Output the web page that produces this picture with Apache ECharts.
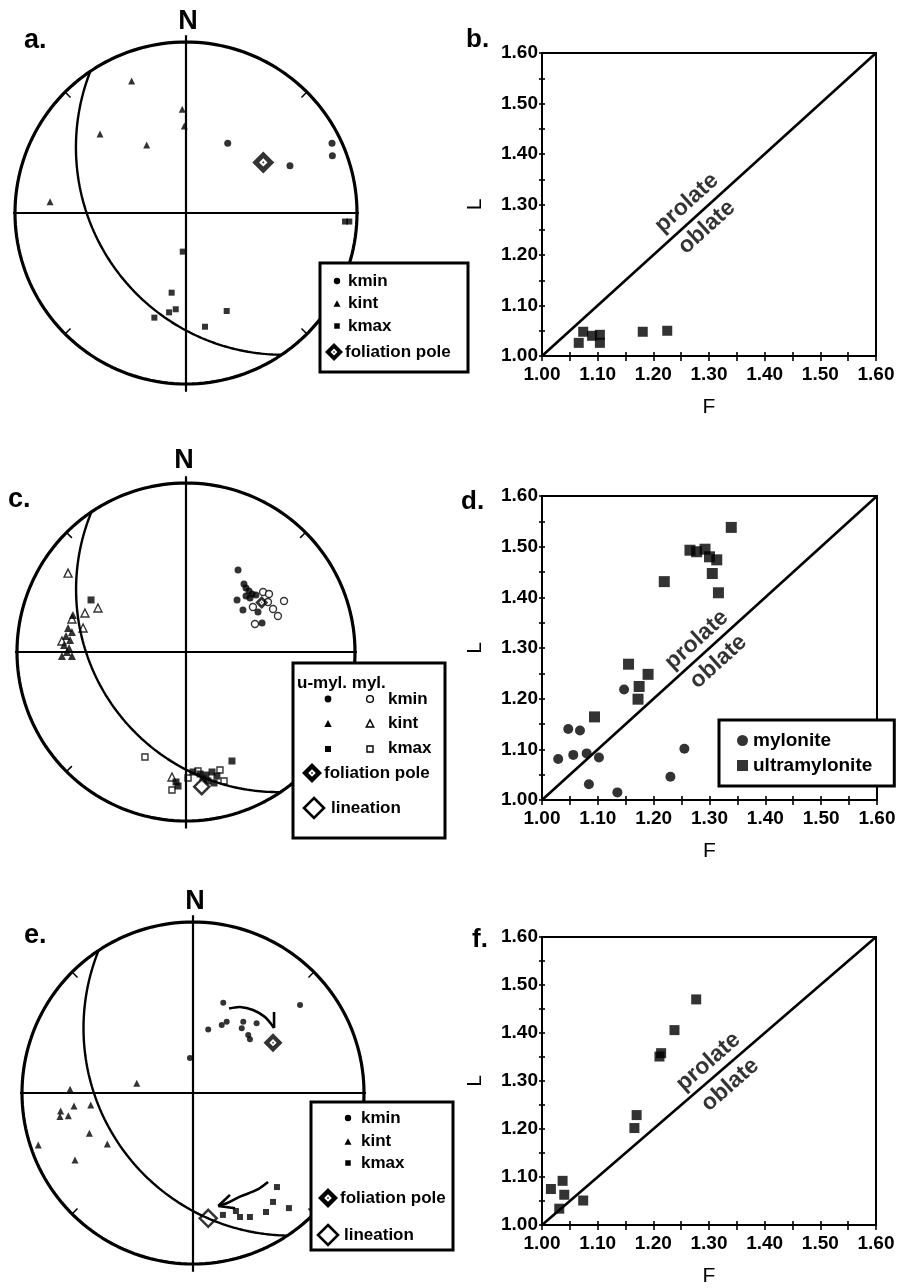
<!DOCTYPE html>
<html>
<head>
<meta charset="utf-8">
<script src="https://cdn.jsdelivr.net/npm/echarts/dist/echarts.min.js"></script>
<style>
  html, body { margin: 0; padding: 0; background: #fff; }
  #chart { width: 899px; height: 1288px; }
</style>
</head>
<body>
<div id="chart"></div>
<script>
const FONT = '"Liberation Sans", Arial, Helvetica, sans-serif';
const DEG = Math.PI / 180;

// ---------- Flinn diagrams: F (foliation) vs L (lineation) ----------
const flinnRange = [1.0, 1.6];

const bF = [1.066, 1.074, 1.090, 1.104, 1.104, 1.181, 1.225];
const bL = [1.026, 1.048, 1.040, 1.042, 1.026, 1.048, 1.050];

const dMyloniteF = [1.047, 1.068, 1.029, 1.056, 1.080, 1.102, 1.084, 1.135, 1.147, 1.230, 1.255];
const dMyloniteL = [1.140, 1.137, 1.081, 1.089, 1.092, 1.084, 1.031, 1.015, 1.218, 1.046, 1.101];
const dUltraF = [1.339, 1.265, 1.277, 1.292, 1.300, 1.313, 1.305, 1.316, 1.219, 1.155, 1.174, 1.172, 1.190, 1.094];
const dUltraL = [1.538, 1.493, 1.490, 1.495, 1.480, 1.474, 1.447, 1.409, 1.431, 1.268, 1.224, 1.199, 1.248, 1.164];

const fF = [1.016, 1.037, 1.040, 1.031, 1.074, 1.166, 1.170, 1.211, 1.214, 1.238, 1.277];
const fL = [1.075, 1.092, 1.063, 1.034, 1.051, 1.202, 1.229, 1.351, 1.358, 1.406, 1.470];

// ---------- Stereonets: lower hemisphere, [east, north] in primitive radii ----------
const aKmin = [[0.244, 0.408], [0.608, 0.277], [0.854, 0.408], [0.856, 0.335]];
const aKint = [[-0.318, 0.772], [-0.022, 0.606], [-0.010, 0.509], [-0.503, 0.462], [-0.230, 0.398], [-0.795, 0.066]];
const aKmax = [[0.930, -0.050], [0.955, -0.050], [-0.019, -0.226], [-0.084, -0.466], [-0.060, -0.563],
               [-0.099, -0.581], [-0.185, -0.612], [0.238, -0.573], [0.111, -0.665]];
const aPole = [[0.452, 0.296]];
const aFoliation = { dipDir: 236, dip: 34.5 };

const cKminUltra = [[0.308, 0.485], [0.343, 0.402], [0.355, 0.379], [0.373, 0.361], [0.391, 0.343], [0.355, 0.331],
                    [0.414, 0.337], [0.302, 0.308], [0.337, 0.249], [0.426, 0.237], [0.450, 0.172], [0.379, 0.320]];
const cKminMyl = [[0.456, 0.355], [0.491, 0.343], [0.580, 0.302], [0.396, 0.266], [0.515, 0.254], [0.544, 0.213],
                  [0.408, 0.166], [0.485, 0.296]];
const cKintUltra = [[-0.669, 0.219], [-0.698, 0.142], [-0.675, 0.118], [-0.710, 0.095], [-0.686, 0.071],
                    [-0.722, 0.041], [-0.692, 0.024], [-0.734, -0.024], [-0.675, -0.024], [-0.704, 0.000]];
const cKintMyl = [[-0.698, 0.467], [-0.521, 0.260], [-0.598, 0.231], [-0.675, 0.195], [-0.609, 0.142],
                  [-0.734, 0.065], [-0.083, -0.740]];
const cKmaxUltra = [[-0.562, 0.308], [0.041, -0.710], [0.083, -0.722], [0.118, -0.728], [0.154, -0.710],
                    [0.183, -0.734], [0.130, -0.763], [0.101, -0.751], [0.166, -0.775], [-0.059, -0.769],
                    [-0.047, -0.793], [0.272, -0.645]];
const cKmaxMyl = [[-0.243, -0.621], [-0.083, -0.817], [0.012, -0.746], [0.225, -0.763], [0.071, -0.704], [0.201, -0.698]];
const cPole = [[0.448, 0.293]];
const cLineation = [[0.093, -0.797]];
const cFoliation = { dipDir: 236, dip: 33.5 };

const eKmin = [[0.177, 0.528], [0.626, 0.515], [0.089, 0.372], [0.168, 0.398], [0.197, 0.417], [0.294, 0.417],
               [0.372, 0.408], [0.285, 0.378], [0.323, 0.339], [0.333, 0.314], [-0.018, 0.205]];
const eKint = [[-0.329, 0.057], [-0.719, 0.022], [-0.774, -0.105], [-0.778, -0.138], [-0.729, -0.133],
               [-0.696, -0.076], [-0.598, -0.070], [-0.606, -0.236], [-0.501, -0.298], [-0.690, -0.392], [-0.905, -0.304]];
const eKmax = [[0.491, -0.550], [0.468, -0.637], [0.561, -0.673], [0.427, -0.696], [0.333, -0.725],
               [0.275, -0.725], [0.175, -0.713], [0.251, -0.690]];
const ePole = [[0.468, 0.294]];
const eLineation = [[0.089, -0.733]];
const eFoliation = { dipDir: 236.5, dip: 34.5 };
// rotation arrows (shaft points, then barb ends drawn from the tip)
const eArrows = [
  { shaft: [[0.211, 0.494], [0.275, 0.503], [0.351, 0.485], [0.421, 0.444], [0.474, 0.380]], barbs: [[0.474, 0.474]] },
  { shaft: [[0.439, -0.520], [0.372, -0.567], [0.275, -0.606], [0.197, -0.645], [0.148, -0.661]],
    barbs: [[0.216, -0.596], [0.246, -0.674]] }
];

// ---------- projection helpers (Wulff net, lower hemisphere) ----------
function project(trend, plunge) {
  const r = Math.tan((90 - plunge) * DEG / 2);
  return [r * Math.sin(trend * DEG), r * Math.cos(trend * DEG)];
}
function greatCircle(plane) {
  const sd = (plane.dipDir - 90) * DEG, dd = plane.dipDir * DEG, dp = plane.dip * DEG;
  const s = [Math.sin(sd), Math.cos(sd), 0];
  const d = [Math.sin(dd) * Math.cos(dp), Math.cos(dd) * Math.cos(dp), Math.sin(dp)];
  const pts = [];
  for (let a = 0; a <= 180; a += 1) {
    const c = Math.cos(a * DEG), sn = Math.sin(a * DEG);
    const v = [c * s[0] + sn * d[0], c * s[1] + sn * d[1], c * s[2] + sn * d[2]];
    const pl = Math.asin(Math.max(-1, Math.min(1, v[2]))) / DEG;
    const tr = Math.atan2(v[0], v[1]) / DEG;
    pts.push(project(tr, pl));
  }
  return pts;
}
function primitive() {
  const pts = [];
  for (let t = 0; t <= 360; t += 2) pts.push([Math.sin(t * DEG), Math.cos(t * DEG)]);
  return pts;
}
const zip = (a, b) => a.map((v, i) => [v, b[i]]);

// black diamond with a small white window and a centre dot
const POLE_SYMBOL = 'path://M10,0L20,10L10,20L0,10Z M10,6.2L6.2,10L10,13.8L13.8,10Z M10,8.9L11.1,10L10,11.1L8.9,10Z';

const option = {
  animation: false,
  backgroundColor: '#fff',
  grid: [], xAxis: [], yAxis: [], series: [], graphic: [], legend: []
};

// ---------- stereonet ----------
function addNet(box, net) {
  const gi = option.grid.length;
  option.grid.push({ left: box.left, top: box.top, width: box.size, height: box.size });
  const xi = option.xAxis.length, yi = option.yAxis.length;
  option.xAxis.push({ gridIndex: gi, type: 'value', min: -1, max: 1, show: false });
  option.yAxis.push({ gridIndex: gi, type: 'value', min: -1, max: 1, show: false });
  const base = { xAxisIndex: xi, yAxisIndex: yi, clip: false, silent: true };
  const line = (data, width) => Object.assign({ type: 'line', data, symbol: 'none',
    lineStyle: { color: '#000', width } }, base);
  const dots = (data, symbol, size, filled) => Object.assign({ type: 'scatter', data, symbol, symbolSize: size,
    itemStyle: filled ? { color: '#000' } : { color: '#fff', borderColor: '#000', borderWidth: 1.4 } }, base);

  option.series.push(line(primitive(), 3.2));
  option.series.push(line([[-1.04, 0], [1.04, 0]], 2.2));
  option.series.push(line([[0, -1.045], [0, 1.04]], 2.2));
  [45, 135, 225, 315].forEach(t => {
    const s = Math.sin(t * DEG), c = Math.cos(t * DEG);
    option.series.push(line([[0.955 * s, 0.955 * c], [1.0 * s, 1.0 * c]], 1.5));
  });
  option.series.push(line(greatCircle(net.plane), 2.4));
  net.points.forEach(p => option.series.push(dots(p.data, p.symbol, p.size, p.filled)));
  if (net.lineation) {
    option.series.push(Object.assign({ type: 'scatter', data: net.lineation, symbol: 'diamond', symbolSize: net.linSize,
      itemStyle: { color: '#fff', borderColor: '#000', borderWidth: 2.5 } }, base));
  }
  option.series.push(Object.assign({ type: 'scatter', data: net.pole, symbol: POLE_SYMBOL,
    symbolSize: net.poleSize, itemStyle: { color: '#000' } }, base));
  if (net.arrows) {
    option.series.push(Object.assign({
      type: 'custom', coordinateSystem: 'cartesian2d',
      data: net.arrows.map(() => [0, 0]),
      renderItem: (params, api) => {
        const a = net.arrows[params.dataIndex];
        const pts = a.shaft.map(p => api.coord(p));
        const tip = pts[pts.length - 1];
        const children = [{ type: 'polyline', shape: { points: pts, smooth: 0.3 },
          style: { stroke: '#000', lineWidth: 2.6, fill: null } }];
        a.barbs.forEach(b => {
          const q = api.coord(b);
          children.push({ type: 'line', shape: { x1: tip[0], y1: tip[1], x2: q[0], y2: q[1] },
            style: { stroke: '#000', lineWidth: 2.6 } });
        });
        return { type: 'group', children };
      }
    }, base));
  }
}

// ---------- Flinn diagram ----------
function addFlinn(box, sets, labels) {
  const gi = option.grid.length;
  option.grid.push({ left: box.left, top: box.top, width: box.width, height: box.height,
    show: true, borderColor: '#000', borderWidth: 2 });
  const xi = option.xAxis.length, yi = option.yAxis.length;
  const fmt = v => v.toFixed(2);
  const lbl = { color: '#000', fontFamily: FONT, fontSize: 19, fontWeight: 'bold' };
  const common = { type: 'value', min: flinnRange[0], max: flinnRange[1], interval: 0.1,
    splitLine: { show: false }, minorSplitLine: { show: false } };
  option.xAxis.push(Object.assign({}, common, { gridIndex: gi, position: 'bottom',
    axisLine: { lineStyle: { color: '#000', width: 2 } },
    axisTick: { show: true, length: 5, lineStyle: { color: '#000', width: 1.6 } },
    minorTick: { show: true, splitNumber: 2, length: 5, lineStyle: { color: '#000', width: 1.6 } },
    axisLabel: Object.assign({ formatter: fmt, margin: 9 }, lbl),
    name: 'F', nameLocation: 'middle', nameGap: 41,
    nameTextStyle: { color: '#000', fontFamily: FONT, fontSize: 21 } }));
  option.xAxis.push(Object.assign({}, common, { gridIndex: gi, position: 'bottom',
    axisLine: { show: false }, axisLabel: { show: false },
    axisTick: { show: true, inside: true, length: 4, lineStyle: { color: '#000', width: 1.6 } },
    minorTick: { show: true, splitNumber: 2, length: 4, lineStyle: { color: '#000', width: 1.6 } } }));
  option.yAxis.push(Object.assign({}, common, { gridIndex: gi, position: 'left',
    axisLine: { lineStyle: { color: '#000', width: 2 } },
    axisTick: { show: true, length: 3, lineStyle: { color: '#000', width: 1.6 } },
    minorTick: { show: true, splitNumber: 2, length: 3, lineStyle: { color: '#000', width: 1.6 } },
    axisLabel: Object.assign({ formatter: fmt, margin: 4 }, lbl),
    name: 'L', nameLocation: 'middle', nameGap: 56, nameRotate: 90,
    nameTextStyle: { color: '#000', fontFamily: FONT, fontSize: 21 } }));
  option.yAxis.push(Object.assign({}, common, { gridIndex: gi, position: 'left',
    axisLine: { show: false }, axisLabel: { show: false },
    axisTick: { show: true, inside: true, length: 3, lineStyle: { color: '#000', width: 1.6 } },
    minorTick: { show: true, splitNumber: 2, length: 3, lineStyle: { color: '#000', width: 1.6 } } }));

  const base = { xAxisIndex: xi, yAxisIndex: yi };
  option.series.push(Object.assign({ type: 'line', silent: true, symbol: 'none',
    data: [[flinnRange[0], flinnRange[0]], [flinnRange[1], flinnRange[1]]],
    lineStyle: { color: '#000', width: 2.6 } }, base));
  sets.forEach(s => option.series.push(Object.assign({ type: 'scatter', name: s.name, data: s.data,
    symbol: s.symbol, symbolSize: s.size, itemStyle: { color: '#000' } }, base)));
  const rot = Math.atan2(box.height, box.width) / DEG;
  labels.forEach(t => option.series.push(Object.assign({ type: 'scatter', silent: true,
    data: [t.at], symbolSize: 0,
    label: { show: true, position: 'inside', formatter: t.text, rotate: rot, color: '#000',
      fontFamily: FONT, fontSize: 23, fontWeight: 'bold' } }, base)));
}

// ---------- panels ----------
addNet({ left: 15, top: 42, size: 342 }, {
  plane: aFoliation, pole: aPole, poleSize: 22,
  points: [
    { data: aKmin, symbol: 'circle', size: 7, filled: true },
    { data: aKint, symbol: 'triangle', size: 7, filled: true },
    { data: aKmax, symbol: 'rect', size: 6, filled: true }
  ]
});
addFlinn({ left: 542, top: 53, width: 334, height: 303 },
  [{ name: 'b-data', data: zip(bF, bL), symbol: 'rect', size: 10 }],
  [{ text: 'prolate', at: [1.260, 1.303] }, { text: 'oblate', at: [1.296, 1.255] }]);

addNet({ left: 17, top: 483, size: 338 }, {
  plane: cFoliation, pole: cPole, poleSize: 13, lineation: cLineation, linSize: 15,
  points: [
    { data: cKminMyl, symbol: 'circle', size: 7, filled: false },
    { data: cKintMyl, symbol: 'triangle', size: 8, filled: false },
    { data: cKmaxMyl, symbol: 'rect', size: 6, filled: false },
    { data: cKminUltra, symbol: 'circle', size: 7, filled: true },
    { data: cKintUltra, symbol: 'triangle', size: 8, filled: true },
    { data: cKmaxUltra, symbol: 'rect', size: 7, filled: true }
  ]
});
addFlinn({ left: 542, top: 496, width: 335, height: 304 },
  [{ name: 'mylonite', data: zip(dMyloniteF, dMyloniteL), symbol: 'circle', size: 10 },
   { name: 'ultramylonite', data: zip(dUltraF, dUltraL), symbol: 'rect', size: 11 }],
  [{ text: 'prolate', at: [1.277, 1.316] }, { text: 'oblate', at: [1.316, 1.273] }]);

addNet({ left: 22, top: 922, size: 342 }, {
  plane: eFoliation, pole: ePole, poleSize: 19, lineation: eLineation, linSize: 17, arrows: eArrows,
  points: [
    { data: eKmin, symbol: 'circle', size: 6, filled: true },
    { data: eKint, symbol: 'triangle', size: 7, filled: true },
    { data: eKmax, symbol: 'rect', size: 6, filled: true }
  ]
});
addFlinn({ left: 542, top: 937, width: 334, height: 292 },
  [{ name: 'f-data', data: zip(fF, fL), symbol: 'rect', size: 10 }],
  [{ text: 'prolate', at: [1.299, 1.340] }, { text: 'oblate', at: [1.338, 1.292] }]);

option.legend.push({
  data: ['mylonite', 'ultramylonite'], orient: 'vertical', left: 719, top: 720,
  padding: [11, 22, 11, 18], itemGap: 6, itemWidth: 11, itemHeight: 11,
  borderColor: '#000', borderWidth: 3, backgroundColor: '#fff', selectedMode: false,
  textStyle: { color: '#000', fontFamily: FONT, fontSize: 19, fontWeight: 'bold' }
});

// ---------- panel letters, north marks, stereonet keys ----------
const Z = 100;
function gText(x, y, text, size, weight, align) {
  return { type: 'text', x, y, z: Z + 1,
    style: { text, fill: '#000', font: (weight || 'bold') + ' ' + size + 'px ' + FONT,
      align: align || 'left', verticalAlign: 'middle' } };
}
function gBox(x, y, w, h) {
  return { type: 'rect', z: Z, shape: { x, y, width: w, height: h },
    style: { fill: '#fff', stroke: '#000', lineWidth: 3 } };
}
function gDot(cx, cy, r, filled) {
  return { type: 'circle', z: Z + 1, shape: { cx, cy, r },
    style: filled ? { fill: '#000' } : { fill: '#fff', stroke: '#000', lineWidth: 1.4 } };
}
function gTri(cx, cy, s, filled) {
  return { type: 'polygon', z: Z + 1,
    shape: { points: [[cx, cy - s * 0.55], [cx + s * 0.5, cy + s * 0.4], [cx - s * 0.5, cy + s * 0.4]] },
    style: filled ? { fill: '#000' } : { fill: '#fff', stroke: '#000', lineWidth: 1.4 } };
}
function gSq(cx, cy, s, filled) {
  return { type: 'rect', z: Z + 1, shape: { x: cx - s / 2, y: cy - s / 2, width: s, height: s },
    style: filled ? { fill: '#000' } : { fill: '#fff', stroke: '#000', lineWidth: 1.4 } };
}
function gDiamond(cx, cy, h, style) {
  return { type: 'polygon', z: Z + 1,
    shape: { points: [[cx, cy - h], [cx + h, cy], [cx, cy + h], [cx - h, cy]] }, style };
}
function gPole(cx, cy, h) {
  return [gDiamond(cx, cy, h, { fill: '#000' }),
          Object.assign(gDiamond(cx, cy, h * 0.38, { fill: '#fff' }), { z: Z + 2 }),
          Object.assign(gDiamond(cx, cy, h * 0.11, { fill: '#000' }), { z: Z + 3 })];
}
function gLin(cx, cy, h) {
  return gDiamond(cx, cy, h, { fill: '#fff', stroke: '#000', lineWidth: 2.6 });
}

option.graphic.push(
  gText(24, 41, 'a.', 27, 'bold'), gText(188, 22, 'N', 27, 'bold', 'center'),
  gText(466, 40, 'b.', 26, 'bold'),
  gText(8, 500, 'c.', 27, 'bold'), gText(184, 461, 'N', 27, 'bold', 'center'),
  gText(461, 502, 'd.', 26, 'bold'),
  gText(24, 936, 'e.', 27, 'bold'), gText(195, 902, 'N', 27, 'bold', 'center'),
  gText(472, 940, 'f.', 26, 'bold')
);

// key for net a
option.graphic.push(gBox(320, 263, 148, 109),
  gDot(337, 281, 3.2, true), gText(348, 281, 'kmin', 17),
  gTri(337, 304, 7, true), gText(348, 303, 'kint', 17),
  gSq(337, 326, 5.5, true), gText(348, 326, 'kmax', 17),
  ...gPole(334, 352, 9), gText(345, 352, 'foliation pole', 17));

// key for net c
option.graphic.push(gBox(293, 663, 152, 175),
  gText(297, 683, 'u-myl. myl.', 17),
  gDot(328, 699, 3.4, true), gDot(370, 699, 3.4, false), gText(388, 699, 'kmin', 17),
  gTri(328, 724, 7.5, true), gTri(370, 724, 7.5, false), gText(388, 723, 'kint', 17),
  gSq(328, 749, 6, true), gSq(370, 749, 6, false), gText(388, 748, 'kmax', 17),
  ...gPole(312, 773, 10), gText(324, 773, 'foliation pole', 17),
  gLin(314, 808, 10), gText(331, 808, 'lineation', 17));

// key for net e
option.graphic.push(gBox(311, 1102, 142, 148),
  gDot(348, 1118, 3.2, true), gText(361, 1118, 'kmin', 17),
  gTri(348, 1142, 7, true), gText(361, 1141, 'kint', 17),
  gSq(348, 1163, 5.5, true), gText(361, 1163, 'kmax', 17),
  ...gPole(328, 1198, 10), gText(340, 1198, 'foliation pole', 17),
  gLin(328, 1235, 10), gText(344, 1235, 'lineation', 17));

const chart = echarts.init(document.getElementById('chart'), null, { renderer: 'canvas' });
chart.setOption(option);
</script>
</body>
</html>
